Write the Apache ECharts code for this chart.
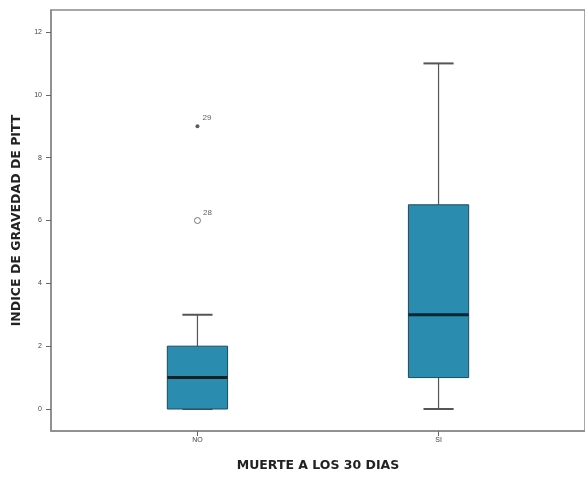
<!DOCTYPE html>
<html>
<head>
<meta charset="utf-8">
<script src="https://cdn.jsdelivr.net/npm/echarts@6/dist/echarts.min.js"></script>
<style>
  html, body { margin: 0; padding: 0; background: #fff; }
  #chart { width: 585px; height: 477px; }
</style>
</head>
<body>
<div id="chart"></div>
<script>
// Groups on the horizontal axis
const categories = ['NO', 'SI'];
// Five-number summaries per group: [min whisker, Q1, median, Q3, max whisker]
const boxStats = [
  [0, 0, 1, 2, 3],
  [0, 1, 3, 6.5, 11]
];
// Outlying cases: [group index, value, case number, extreme?]
const outliers = [
  [0, 6, '28', false],
  [0, 9, '29', true]
];
// Ticks of the index axis
const yTicks = [0, 2, 4, 6, 8, 10, 12];

const boxData = boxStats.map((s, i) => [i + 1].concat(s));
const mildData = outliers.filter(o => !o[3]).map(o => ({ value: [o[0] + 1, o[1]], caseNo: o[2] }));
const extremeData = outliers.filter(o => o[3]).map(o => ({ value: [o[0] + 1, o[1]], caseNo: o[2] }));

const chart = echarts.init(document.getElementById('chart'), null, { renderer: 'canvas' });

const BOX_W = 0.25;    // box width in axis units
const CAP_W = 0.0625;  // half width of a whisker cap in axis units
const TITLE_FONT = { color: '#222', fontSize: 12.5, fontWeight: 'bold', fontFamily: 'DejaVu Sans' };

function renderBox(params, api) {
  const x = api.value(0);
  const lo = api.coord([x, api.value(1)]);
  const q1 = api.coord([x, api.value(2)]);
  const md = api.coord([x, api.value(3)]);
  const q3 = api.coord([x, api.value(4)]);
  const hi = api.coord([x, api.value(5)]);
  const left = api.coord([x - BOX_W / 2, 0])[0];
  const right = api.coord([x + BOX_W / 2, 0])[0];
  const capL = api.coord([x - CAP_W, 0])[0];
  const capR = api.coord([x + CAP_W, 0])[0];
  const cx = lo[0];
  const whisker = { stroke: '#555', lineWidth: 1.2 };
  const cap = { stroke: '#555', lineWidth: 2 };
  return {
    type: 'group',
    children: [
      { type: 'line', shape: { x1: cx, y1: q3[1], x2: cx, y2: hi[1] }, style: whisker },
      { type: 'line', shape: { x1: cx, y1: q1[1], x2: cx, y2: lo[1] }, style: whisker },
      { type: 'line', shape: { x1: capL, y1: hi[1], x2: capR, y2: hi[1] }, style: cap },
      { type: 'line', shape: { x1: capL, y1: lo[1], x2: capR, y2: lo[1] }, style: cap },
      { type: 'rect', shape: { x: left, y: q3[1], width: right - left, height: q1[1] - q3[1] },
        style: { fill: '#2a8db0', stroke: '#1d4a5c', lineWidth: 1 } },
      { type: 'line', shape: { x1: left, y1: md[1], x2: right, y2: md[1] }, style: { stroke: '#0b2530', lineWidth: 3 } }
    ]
  };
}

const option = {
  backgroundColor: '#fff',
  animation: false,
  grid: {
    left: 51, top: 10, right: -2, bottom: 46,
    show: true, borderColor: '#8a8a8a', borderWidth: 1.5, backgroundColor: 'transparent'
  },
  xAxis: {
    type: 'value',
    min: 0.3925, max: 2.6075,
    splitLine: { show: false },
    axisLine: { show: true, onZero: false, lineStyle: { color: '#8a8a8a', width: 1.5 } },
    axisTick: { show: true, customValues: categories.map((c, i) => i + 1), length: 5, lineStyle: { color: '#666' } },
    axisLabel: {
      customValues: categories.map((c, i) => i + 1),
      formatter: v => categories[Math.round(v) - 1] || '',
      color: '#444', fontSize: 7, fontFamily: 'Liberation Sans, Arial', margin: 6
    },
    name: 'MUERTE A LOS 30 DIAS',
    nameLocation: 'middle', nameGap: 28,
    nameTextStyle: TITLE_FONT
  },
  yAxis: {
    type: 'value',
    min: -0.7, max: 12.7,
    splitLine: { show: false },
    axisLine: { show: true, onZero: false, lineStyle: { color: '#8a8a8a', width: 1.5 } },
    axisTick: { show: true, customValues: yTicks, length: 5, lineStyle: { color: '#666' } },
    axisLabel: {
      customValues: yTicks,
      color: '#444', fontSize: 7, fontFamily: 'Liberation Sans, Arial', margin: 9
    },
    name: 'INDICE DE GRAVEDAD DE PITT',
    nameLocation: 'middle', nameGap: 27, nameRotate: 90,
    nameTextStyle: TITLE_FONT
  },
  series: [
    {
      type: 'custom',
      renderItem: renderBox,
      encode: { x: 0, y: [1, 2, 3, 4, 5] },
      data: boxData,
      z: 2
    },
    {
      type: 'scatter',
      data: mildData,
      symbol: 'circle', symbolSize: 6,
      itemStyle: { color: '#fff', borderColor: '#555', borderWidth: 1 },
      label: { show: true, position: 'right', distance: 2, offset: [0, -8],
        formatter: p => p.data.caseNo, color: '#333', fontSize: 8, fontFamily: 'Liberation Sans, Arial' },
      z: 3
    },
    {
      type: 'scatter',
      data: extremeData,
      symbol: 'circle', symbolSize: 4,
      itemStyle: { color: '#333' },
      label: { show: true, position: 'right', distance: 3, offset: [0, -8],
        formatter: p => p.data.caseNo, color: '#333', fontSize: 8, fontFamily: 'Liberation Sans, Arial' },
      z: 3
    }
  ]
};

chart.setOption(option);
</script>
</body>
</html>
